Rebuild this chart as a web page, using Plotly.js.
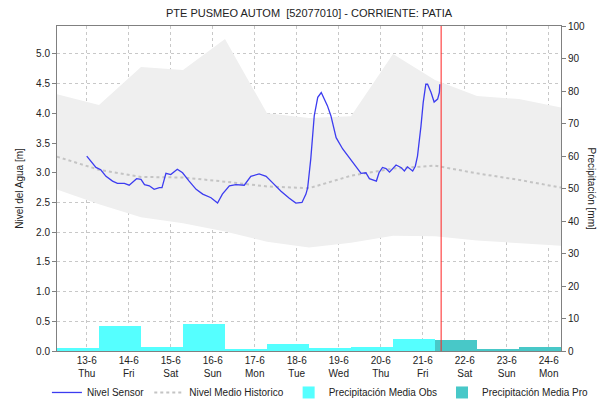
<!DOCTYPE html>
<html>
<head>
<meta charset="utf-8">
<script src="https://cdn.plot.ly/plotly-3.0.1.min.js"></script>
<style>html,body{margin:0;padding:0;background:#fff;}#chart{width:607px;height:404px;}</style>
</head>
<body>
<div id="chart"></div>
<script>
// ---- data ----
const sensorTime = [
"2024-06-13 00:00","2024-06-13 01:30","2024-06-13 05:15","2024-06-13 08:00","2024-06-13 11:00","2024-06-13 14:45","2024-06-13 17:30","2024-06-13 21:30",
"2024-06-14 00:15","2024-06-14 03:00","2024-06-14 04:30","2024-06-14 07:00","2024-06-14 09:00","2024-06-14 11:45","2024-06-14 14:30","2024-06-14 17:30","2024-06-14 19:00","2024-06-14 21:15",
"2024-06-15 00:00","2024-06-15 03:45","2024-06-15 06:45","2024-06-15 10:30","2024-06-15 14:30","2024-06-15 18:15","2024-06-15 23:00",
"2024-06-16 02:45","2024-06-16 05:30","2024-06-16 09:30","2024-06-16 13:15","2024-06-16 18:00","2024-06-16 21:45",
"2024-06-17 02:30","2024-06-17 06:30","2024-06-17 10:15","2024-06-17 15:00","2024-06-17 19:45","2024-06-17 23:30",
"2024-06-18 03:00","2024-06-18 05:15","2024-06-18 06:15","2024-06-18 08:00","2024-06-18 10:00","2024-06-18 12:00","2024-06-18 14:00","2024-06-18 15:45","2024-06-18 17:30","2024-06-18 19:30","2024-06-18 22:30",
"2024-06-19 02:15","2024-06-19 06:00","2024-06-19 09:45","2024-06-19 12:45","2024-06-19 15:30","2024-06-19 17:30","2024-06-19 21:30","2024-06-19 23:00",
"2024-06-20 01:00","2024-06-20 03:00","2024-06-20 05:00","2024-06-20 08:45","2024-06-20 11:30","2024-06-20 13:30","2024-06-20 15:15","2024-06-20 18:15","2024-06-20 19:45","2024-06-20 21:00","2024-06-20 23:00",
"2024-06-21 00:15","2024-06-21 01:45","2024-06-21 02:45","2024-06-21 04:45","2024-06-21 06:30","2024-06-21 08:30","2024-06-21 09:30","2024-06-21 09:45"
];
const sensorLevel = [
3.28,3.23,3.09,3.05,2.94,2.86,2.82,2.82,
2.79,2.86,2.90,2.89,2.80,2.78,2.72,2.75,2.75,2.99,
2.97,3.06,3.00,2.86,2.72,2.64,2.58,
2.49,2.64,2.78,2.80,2.79,2.94,
2.98,2.94,2.83,2.69,2.57,2.49,
2.50,2.64,2.75,3.23,3.96,4.27,4.35,4.25,4.13,3.96,3.59,
3.40,3.25,3.11,2.99,3.00,2.90,2.86,3.00,
3.09,3.07,3.01,3.13,3.09,3.03,3.10,3.03,3.11,3.28,3.79,
4.18,4.49,4.49,4.35,4.19,4.24,4.35,4.49
];
const histTime = ["2024-06-12 07:00","2024-06-13 07:00","2024-06-14 07:00","2024-06-15 07:00","2024-06-16 07:00","2024-06-17 07:00","2024-06-18 07:00","2024-06-19 07:00","2024-06-20 07:00","2024-06-21 07:00","2024-06-22 07:00","2024-06-23 07:00","2024-06-24 07:00"];
const histMax  = [4.32,4.14,4.78,4.73,5.25,4.00,3.92,3.95,5.00,4.56,4.29,4.24,4.10];
const histMin  = [2.72,2.47,2.25,2.15,2.01,1.84,1.74,1.82,1.94,1.93,1.86,1.81,1.77];
const histMean = [3.27,3.05,2.93,2.92,2.85,2.77,2.74,2.95,3.07,3.12,2.99,2.88,2.75];
const obsStart = ["2024-06-12 07:00","2024-06-13 07:00","2024-06-14 07:00","2024-06-15 07:00","2024-06-16 07:00","2024-06-17 07:00","2024-06-18 07:00","2024-06-19 07:00","2024-06-20 07:00"];
const obsPrecip = [0.9,7.8,1.3,8.4,0.6,2.3,0.8,1.2,3.7];
const proStart = ["2024-06-21 07:00","2024-06-22 07:00","2024-06-23 07:00"];
const proPrecip = [3.5,0.6,1.3];
const tickDates = ["2024-06-13","2024-06-14","2024-06-15","2024-06-16","2024-06-17","2024-06-18","2024-06-19","2024-06-20","2024-06-21","2024-06-22","2024-06-23","2024-06-24"];
const tickLabels = ["13-6<br>Thu","14-6<br>Fri","15-6<br>Sat","16-6<br>Sun","17-6<br>Mon","18-6<br>Tue","19-6<br>Wed","20-6<br>Thu","21-6<br>Fri","22-6<br>Sat","23-6<br>Sun","24-6<br>Mon"];
const nowTime = "2024-06-21 10:30";
const xRange = ["2024-06-12 07:00","2024-06-24 07:00"];
const DAY = 86400000;

const FONT = "Liberation Sans, Arial, sans-serif";

const traces = [
  {x: histTime, y: histMin, type:'scatter', mode:'lines', line:{width:0, color:'#efefef'}, showlegend:false, hoverinfo:'skip'},
  {x: histTime, y: histMax, type:'scatter', mode:'lines', line:{width:0, color:'#efefef'}, fill:'tonexty', fillcolor:'#efefef', showlegend:false, hoverinfo:'skip'},
  {x: histTime, y: histMean, type:'scatter', mode:'lines', name:'Nivel Medio Historico', line:{color:'#c4c4c4', width:2, dash:'dot'}, legendrank:2},
  {x: sensorTime, y: sensorLevel, type:'scatter', mode:'lines', name:'Nivel Sensor', line:{color:'#3c3cf0', width:1.3}, legendrank:1},
  {x: obsStart, y: obsPrecip, type:'bar', name:'Precipitación Media Obs', yaxis:'y2', width:obsStart.map(()=>DAY), offset:0, marker:{color:'#55ffff', line:{width:0}}, legendrank:3},
  {x: proStart, y: proPrecip, type:'bar', name:'Precipitación Media Pro', yaxis:'y2', width:proStart.map(()=>DAY), offset:0, marker:{color:'#48c8c8', line:{width:0}}, legendrank:4}
];

const layout = {
  width:607, height:404,
  margin:{l:57, r:46, t:26, b:53, autoexpand:false},
  paper_bgcolor:'#ffffff', plot_bgcolor:'#ffffff',
  font:{family:FONT, size:10, color:'#222'},
  title:{text:'PTE PUSMEO AUTOM  [52077010] - CORRIENTE: PATIA', font:{family:FONT, size:11, color:'#222'}, x:0.5, xref:'paper', xanchor:'center', y:0.968, yanchor:'middle'},
  barmode:'overlay', bargap:0,
  showlegend:true,
  legend:{orientation:'h', traceorder:'normal', xref:'paper', yref:'paper', x:-0.02, xanchor:'left', y:-0.083, yanchor:'top',
          font:{family:FONT, size:10, color:'#222'}, itemwidth:30, tracegroupgap:0, bgcolor:'rgba(0,0,0,0)'},
  xaxis:{type:'date', range:xRange, tickmode:'array', tickvals:tickDates, ticktext:tickLabels,
         showgrid:true, gridcolor:'#c8c8c8', griddash:'dot', gridwidth:1,
         showline:true, linecolor:'#808080', linewidth:1, mirror:true, ticks:'', tickfont:{size:10, color:'#222'}, zeroline:false},
  yaxis:{range:[0,5.47], dtick:0.5, tick0:0, tickformat:'.1f', showgrid:true, gridcolor:'#c8c8c8', griddash:'dot', gridwidth:1,
         showline:true, linecolor:'#808080', linewidth:1, ticks:'outside', ticklen:4, tickcolor:'#808080', zeroline:false,
         tickfont:{size:10, color:'#222'},
         title:{text:'Nivel del Agua [m]', font:{size:10, color:'#222'}, standoff:10}},
  yaxis2:{overlaying:'y', side:'right', range:[0,100], dtick:10, tick0:0, showgrid:false, zeroline:false,
          showline:true, linecolor:'#808080', linewidth:1, ticks:'outside', ticklen:4, tickcolor:'#808080',
          tickfont:{size:10, color:'#222'}},
  shapes:[{type:'line', xref:'x', yref:'paper', x0:nowTime, x1:nowTime, y0:0, y1:1, line:{color:'#ff2020', width:1}}],
  annotations:[{text:'Precipitación [mm]', xref:'paper', yref:'paper', x:1.0615, y:0.5, xanchor:'center', yanchor:'middle', textangle:90, showarrow:false, font:{family:FONT, size:10, color:'#222'}}]
};

Plotly.newPlot('chart', traces, layout, {displayModeBar:false, staticPlot:true});
</script>
</body>
</html>
